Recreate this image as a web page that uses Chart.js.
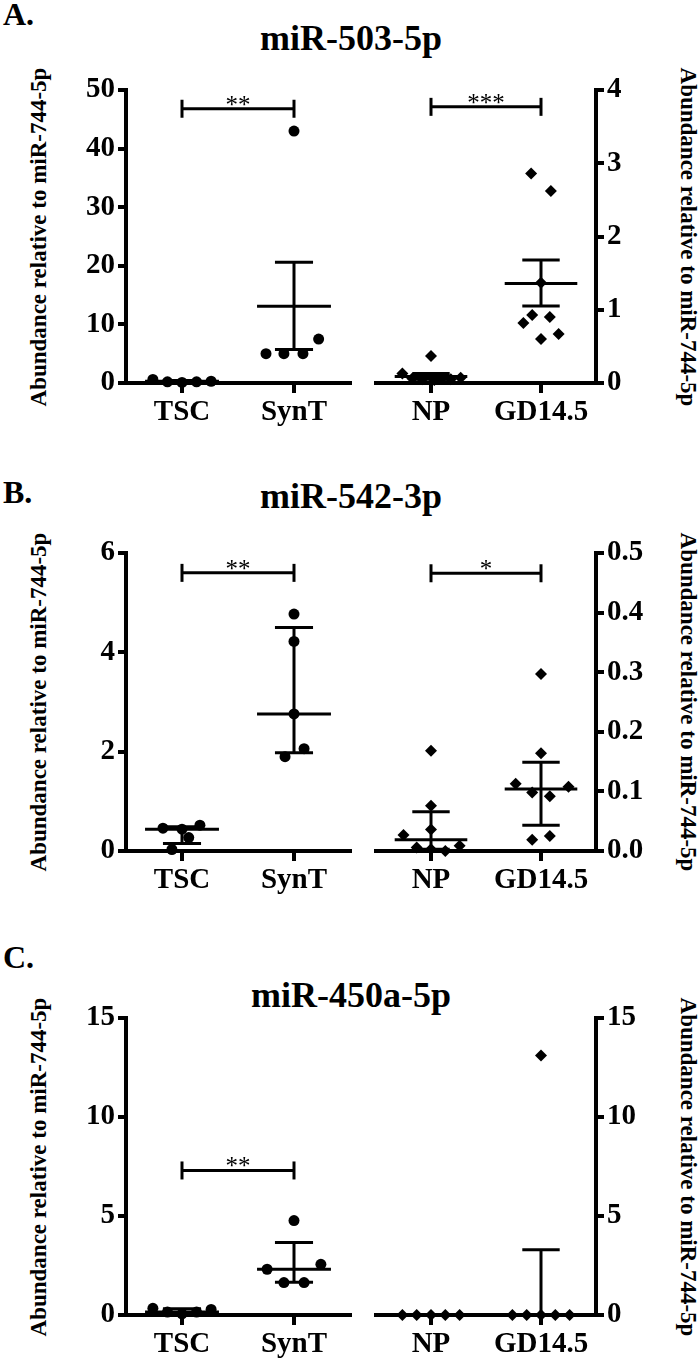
<!DOCTYPE html>
<html lang="en">
<head>
<meta charset="utf-8">
<title>miRNA abundance relative to miR-744-5p</title>
<script src="https://cdn.jsdelivr.net/npm/chart.js@4.4.1/dist/chart.umd.min.js"></script>
<style>
    body { margin: 0; background: #fff; }
    #page { position: relative; width: 700px; height: 1359px; overflow: hidden;
            font-family: 'Liberation Serif', 'Times New Roman', serif; color: #000; }
    canvas { position: absolute; }
    .txt { position: absolute; font-weight: bold; line-height: 1; white-space: nowrap; }
    .letter { font-size: 32px; left: 3px; }
    .title { font-size: 36px; left: 0; width: 702px; text-align: center; }
    .ytitle { font-size: 23px; }
</style>
</head>
<body>
<div id="page"></div>
<script>
    // categories, same in all three panels
    const leftCats = ['TSC', 'SynT'];
    const rightCats = ['NP', 'GD14.5'];

    // A. miR-503-5p (mean +/- SEM)
    const aTitle = 'miR-503-5p';
    const aLeftTicks = [0, 10, 20, 30, 40, 50];
    const aRightTicks = [0, 1, 2, 3, 4];
    const aTSC = [0.6, 0.2, 0.1, 0.2, 0.3];
    const aTSCx = [-0.26, -0.13, 0, 0.13, 0.26];
    const aSynT = [43, 5.0, 5.0, 5.0, 7.5];
    const aSynTx = [0, -0.25, -0.09, 0.08, 0.22];
    const aNP = [0.13, 0.06, 0.37, 0.05, 0.04, 0.06, 0.05, 0.07];
    const aNPx = [-0.26, -0.17, 0, -0.08, 0.03, 0.1, 0.18, 0.27];
    const aGD = [2.86, 2.62, 1.37, 0.82, 0.93, 0.90, 0.60, 0.67];
    const aGDx = [-0.09, 0.09, 0, -0.16, -0.08, 0.08, 0, 0.16];
    const aMid = [0.28, 13.1, 0.09, 1.36];
    const aLo = [0.12, 5.7, 0.05, 1.05];
    const aHi = [0.44, 20.6, 0.13, 1.68];
    const aBrackets = [46.8, 3.77];
    const aStars = ['**', '***'];

    // B. miR-542-3p (median, interquartile range)
    const bTitle = 'miR-542-3p';
    const bLeftTicks = [0, 2, 4, 6];
    const bRightTicks = [0, 0.1, 0.2, 0.3, 0.4, 0.5];
    const bTSC = [0.46, 0.44, 0.52, 0.27, 0.03];
    const bTSCx = [-0.17, 0, 0.16, 0.06, -0.09];
    const bSynT = [4.77, 4.22, 2.76, 2.06, 1.90];
    const bSynTx = [0, 0, 0, 0.09, -0.08];
    const bNP = [0.168, 0.076, 0.036, 0.027, 0.006, 0.003, 0.0, 0.009];
    const bNPx = [0, 0, 0, -0.25, -0.13, 0, 0.13, 0.26];
    const bGD = [0.297, 0.164, 0.113, 0.098, 0.092, 0.108, 0.019, 0.025];
    const bGDx = [0, 0, -0.23, -0.08, 0.08, 0.25, -0.08, 0.08];
    const bMid = [0.44, 2.76, 0.019, 0.104];
    const bLo = [0.15, 1.98, 0.003, 0.043];
    const bHi = [0.49, 4.5, 0.066, 0.149];
    const bBrackets = [5.6, 0.466];
    const bStars = ['**', '*'];

    // C. miR-450a-5p (median, interquartile range)
    const cTitle = 'miR-450a-5p';
    const cLeftTicks = [0, 5, 10, 15];
    const cRightTicks = [0, 5, 10, 15];
    const cTSC = [0.34, 0.15, 0.06, 0.15, 0.28];
    const cTSCx = [-0.26, -0.13, 0, 0.13, 0.26];
    const cSynT = [4.77, 2.31, 2.56, 1.64, 1.64];
    const cSynTx = [0, -0.24, 0.24, -0.09, 0.09];
    const cNP = [0, 0, 0, 0, 0];
    const cNPx = [-0.26, -0.13, 0, 0.13, 0.26];
    const cGD = [13.1, 0, 0, 0, 0, 0];
    const cGDx = [0, -0.26, -0.13, 0, 0.13, 0.26];
    const cMid = [0.15, 2.31, 0, 0];
    const cLo = [0.1, 1.65, 0, 0];
    const cHi = [0.31, 3.66, 0, 3.29];
    const cBrackets = [7.3, null];
    const cStars = ['**', null];

    const yLabel = 'Abundance relative to miR-744-5p';
    const FONT = "'Liberation Serif', 'Times New Roman', serif";
    const page = document.getElementById('page');

    // mean/median line, whiskers and significance bracket
    const summaryPlugin = {
        id: 'summary',
        beforeDatasetsDraw(chart, args, opts) {
            const ctx = chart.ctx, xs = chart.scales.x, ys = chart.scales.y;
            const seg = (x0, y0, x1, y1) => {
                ctx.beginPath(); ctx.moveTo(x0, y0); ctx.lineTo(x1, y1); ctx.stroke();
            };
            ctx.save();
            ctx.strokeStyle = '#000';
            ctx.lineWidth = 3;
            opts.mid.forEach((m, i) => {
                const ym = ys.getPixelForValue(m);
                const yl = ys.getPixelForValue(opts.lo[i]);
                const yh = ys.getPixelForValue(opts.hi[i]);
                const xc = xs.getPixelForValue(i);
                seg(xs.getPixelForValue(i - 0.33), ym, xs.getPixelForValue(i + 0.33), ym);
                seg(xc, yl, xc, yh);
                seg(xs.getPixelForValue(i - 0.17), yl, xs.getPixelForValue(i + 0.17), yl);
                seg(xs.getPixelForValue(i - 0.17), yh, xs.getPixelForValue(i + 0.17), yh);
            });
            if (opts.bracket != null) {
                const yb = ys.getPixelForValue(opts.bracket);
                const x0 = xs.getPixelForValue(0), x1 = xs.getPixelForValue(1);
                seg(x0, yb, x1, yb);
                seg(x0, yb - 9, x0, yb + 9);
                seg(x1, yb - 9, x1, yb + 9);
                ctx.fillStyle = '#000';
                ctx.font = '25px ' + FONT;
                ctx.textAlign = 'center';
                ctx.textBaseline = 'alphabetic';
                ctx.fillText(opts.stars, (x0 + x1) / 2, yb + 4);
            }
            ctx.restore();
        }
    };

    function addText(text, cls, css) {
        const d = document.createElement('div');
        d.className = 'txt ' + cls;
        d.textContent = text;
        Object.assign(d.style, css);
        page.appendChild(d);
        return d;
    }

    function addChart(side, top, bottom, cats, series, offsets, mid, lo, hi, ticks, fmt, bracket, stars) {
        const cv = document.createElement('canvas');
        const isLeft = side === 'left';
        cv.width = isLeft ? 363 : 337;
        cv.height = bottom - top + 75;
        cv.style.left = (isLeft ? 0 : 363) + 'px';
        cv.style.top = (top - 30) + 'px';
        page.appendChild(cv);

        const tickFont = {family: FONT, size: 29, weight: 'bold'};
        new Chart(cv, {
            type: 'scatter',
            data: {
                datasets: series.map((vals, g) => ({
                    data: vals.map((v, k) => ({x: g + offsets[g][k], y: v})),
                    pointStyle: isLeft ? 'circle' : 'rectRot',
                    pointRadius: isLeft ? 5.5 : 6,
                    backgroundColor: '#000',
                    borderColor: '#000',
                    borderWidth: 0,
                    clip: false
                }))
            },
            options: {
                responsive: false,
                animation: false,
                devicePixelRatio: 1,
                layout: {padding: isLeft ? {top: 30, right: 13, left: 0, bottom: 0}
                                         : {top: 30, left: 13, right: 0, bottom: 0}},
                plugins: {
                    legend: {display: false},
                    tooltip: {enabled: false},
                    summary: {mid: mid, lo: lo, hi: hi, bracket: bracket, stars: stars}
                },
                scales: {
                    x: {
                        type: 'linear', min: -0.5, max: 1.5,
                        afterBuildTicks: s => { s.ticks = [{value: 0}, {value: 1}]; },
                        afterFit: s => { s.height = 45; },
                        ticks: {callback: (v, i) => cats[i], color: '#000', font: tickFont,
                                padding: 2, maxRotation: 0, autoSkip: false},
                        grid: {drawOnChartArea: false, color: '#000', lineWidth: 4, tickLength: 10},
                        border: {color: '#000', width: 4}
                    },
                    y: {
                        type: 'linear', position: side,
                        min: ticks[0], max: ticks[ticks.length - 1],
                        afterBuildTicks: s => { s.ticks = ticks.map(v => ({value: v})); },
                        afterFit: s => { s.width = isLeft ? 126 : 104; },
                        ticks: {callback: v => fmt(v), color: '#000', font: tickFont, padding: 3},
                        grid: {drawOnChartArea: false, color: '#000', lineWidth: 4, tickLength: 8},
                        border: {color: '#000', width: 4}
                    }
                }
            },
            plugins: [summaryPlugin]
        });
    }

    function addPanel(p) {
        addText(p.letter, 'letter', {top: p.letterTop + 'px'});
        addText(p.title, 'title', {top: p.titleTop + 'px'});
        const cy = (p.top + p.bottom) / 2;
        addText(yLabel, 'ytitle', {left: '38px', top: cy + 'px',
            transform: 'translate(-50%, -50%) rotate(-90deg)'});
        addText(yLabel, 'ytitle', {left: '688px', top: cy + 'px',
            transform: 'translate(-50%, -50%) rotate(90deg)'});
        addChart('left', p.top, p.bottom, leftCats, p.leftSeries, p.leftX,
            p.mid.slice(0, 2), p.lo.slice(0, 2), p.hi.slice(0, 2),
            p.leftTicks, p.leftFmt, p.brackets[0], p.stars[0]);
        addChart('right', p.top, p.bottom, rightCats, p.rightSeries, p.rightX,
            p.mid.slice(2), p.lo.slice(2), p.hi.slice(2),
            p.rightTicks, p.rightFmt, p.brackets[1], p.stars[1]);
    }

    const intFmt = v => String(v);
    const oneDec = v => v.toFixed(1);

    addPanel({letter: 'A.', title: aTitle, letterTop: -2, titleTop: 20, top: 90, bottom: 383,
        leftSeries: [aTSC, aSynT], leftX: [aTSCx, aSynTx],
        rightSeries: [aNP, aGD], rightX: [aNPx, aGDx],
        mid: aMid, lo: aLo, hi: aHi,
        leftTicks: aLeftTicks, rightTicks: aRightTicks, leftFmt: intFmt, rightFmt: intFmt,
        brackets: aBrackets, stars: aStars});

    addPanel({letter: 'B.', title: bTitle, letterTop: 476, titleTop: 478, top: 553, bottom: 851,
        leftSeries: [bTSC, bSynT], leftX: [bTSCx, bSynTx],
        rightSeries: [bNP, bGD], rightX: [bNPx, bGDx],
        mid: bMid, lo: bLo, hi: bHi,
        leftTicks: bLeftTicks, rightTicks: bRightTicks, leftFmt: intFmt, rightFmt: oneDec,
        brackets: bBrackets, stars: bStars});

    addPanel({letter: 'C.', title: cTitle, letterTop: 941, titleTop: 977, top: 1018, bottom: 1315,
        leftSeries: [cTSC, cSynT], leftX: [cTSCx, cSynTx],
        rightSeries: [cNP, cGD], rightX: [cNPx, cGDx],
        mid: cMid, lo: cLo, hi: cHi,
        leftTicks: cLeftTicks, rightTicks: cRightTicks, leftFmt: intFmt, rightFmt: intFmt,
        brackets: cBrackets, stars: cStars});
</script>
</body>
</html>
